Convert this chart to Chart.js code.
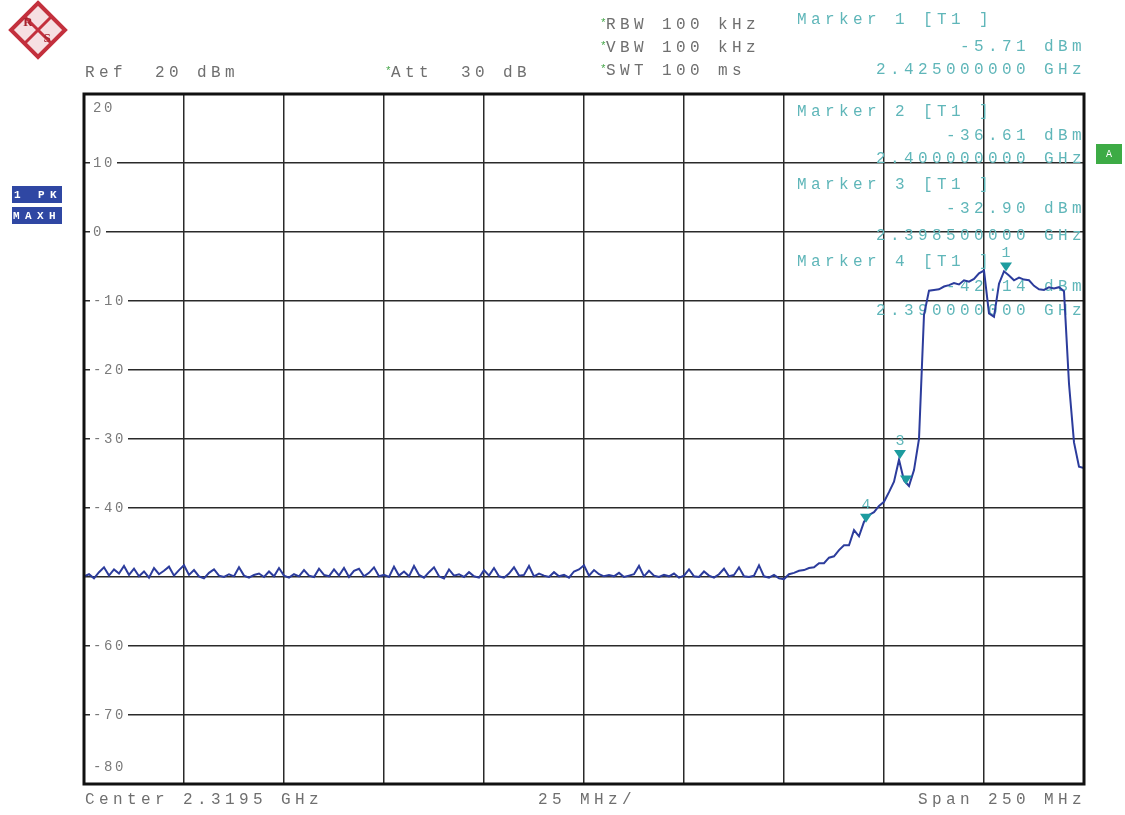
<!DOCTYPE html>
<html>
<head>
<meta charset="utf-8">
<script src="https://cdn.jsdelivr.net/npm/chart.js@4.4.1/dist/chart.umd.min.js"></script>
<style>html,body{margin:0;padding:0;background:#fff}</style>
</head>
<body>
<canvas id="sa" width="1125" height="815"></canvas>
<script>
// sweep: 201 points, 2194.5 .. 2444.5 MHz
const startMHz = 2194.5;
const stepMHz = 1.25;
const traceLevels = [
  -49.9, -49.6, -50.2, -49.3, -48.6, -49.8, -48.9, -49.5, -48.4, -49.7,
  -48.8, -49.9, -49.2, -50.1, -48.7, -49.6, -49.1, -48.5, -49.8, -49.0,
  -48.3, -49.7, -49.0, -49.9, -50.2, -49.4, -48.9, -49.8, -50.0, -49.6,
  -49.9, -48.6, -49.8, -50.1, -49.7, -49.5, -50.0, -49.2, -49.9, -48.7,
  -49.8, -50.1, -49.6, -49.9, -49.0, -49.8, -50.0, -48.8, -49.7, -49.9,
  -48.9, -49.8, -48.7, -50.0, -49.1, -48.8, -49.9, -49.4, -48.6, -49.9,
  -49.7, -50.0, -48.5, -49.8, -49.2, -49.9, -48.4, -49.7, -50.1, -49.3,
  -48.6, -49.9, -50.2, -48.9, -49.8, -49.6, -50.0, -49.3, -49.9, -50.1,
  -49.0, -49.8, -48.7, -49.9, -50.1, -49.5, -48.6, -49.8, -49.7, -48.4,
  -49.9, -49.5, -49.8, -50.0, -49.3, -49.9, -49.7, -50.1, -49.2, -48.9,
  -48.3, -49.8, -49.0, -49.6, -49.9, -49.7, -49.9, -49.4, -50.0, -49.8,
  -49.6, -48.4, -49.9, -49.1, -49.8, -50.0, -49.7, -49.9, -49.5, -50.1,
  -49.8, -48.9, -49.9, -50.0, -49.2, -49.8, -50.1, -49.6, -48.8, -49.9,
  -49.7, -48.6, -49.9, -50.0, -49.8, -48.3, -49.9, -50.1, -49.7, -50.2,
  -50.3,
  -49.6, -49.4, -49.1, -49.0, -48.7, -48.6, -48.0, -48.0, -47.2, -47.0,
  -46.1, -45.4, -45.4, -43.2, -44.1, -42.0, -41.0, -40.6, -39.7, -39.1,
  -37.7, -36.2, -33.0, -36.0, -36.8, -34.5, -30.0, -12.0, -8.5, -8.4,
  -8.3, -7.9, -7.7, -7.4, -7.6, -7.0, -7.2, -6.8, -6.0, -5.6,
  -11.8, -12.3, -7.5, -5.7, -6.3, -7.0, -6.6, -6.9, -7.0, -7.8,
  -8.3, -8.4, -8.0, -8.2, -8.0, -8.6, -22.0, -30.5, -34.0, -34.2
];

const xTicks = [2194.5, 2219.5, 2244.5, 2269.5, 2294.5, 2319.5, 2344.5, 2369.5, 2394.5, 2419.5, 2444.5];
const yTicks = [20, 10, 0, -10, -20, -30, -40, -50, -60, -70, -80];
const yTickLabels = ['20', '10', '0', '-10', '-20', '-30', '-40', '', '-60', '-70', '-80'];

const markerNames = ['1', '2', '3', '4'];
const markerFreqs = [2425, 2400, 2398.5, 2390];
const markerLevels = [-5.71, -36.61, -32.90, -42.14];
const markerLevelText = ['-5.71 dBm', '-36.61 dBm', '-32.90 dBm', '-42.14 dBm'];
const markerFreqText = ['2.425000000 GHz', '2.400000000 GHz', '2.398500000 GHz', '2.390000000 GHz'];
const markerShowName = [true, false, true, true];

const MONO = '"Liberation Mono", "DejaVu Sans Mono", monospace';

function mono(ctx, s, x, y, adv, right) {
  const x0 = right ? x - s.length * adv : x;
  for (let i = 0; i < s.length; i++) ctx.fillText(s[i], x0 + i * adv, y);
}

const overlay = {
  id: 'overlay',
  beforeDatasetsDraw(chart) {
    const ctx = chart.ctx;
    const y = chart.scales.y;
    const a = chart.chartArea;
    ctx.save();
    // y tick labels sitting on the grid lines
    ctx.font = '14px ' + MONO;
    ctx.textBaseline = 'middle';
    ctx.textAlign = 'left';
    yTicks.forEach((v, i) => {
      const t = yTickLabels[i];
      if (!t) return;
      let py = y.getPixelForValue(v);
      if (i === 0) py += 14;
      if (i === yTicks.length - 1) py -= 17;
      const w = t.length * 11;
      ctx.fillStyle = '#fff';
      ctx.fillRect(a.left + 6, py - 7, w + 5, 14);
      ctx.fillStyle = '#7a7a7a';
      mono(ctx, t, a.left + 9, py, 11, false);
    });
    // marker readouts inside the grid
    ctx.font = '16px ' + MONO;
    ctx.fillStyle = '#5fb6b9';
    const blocks = [[112, 136, 159], [185, 209, 236], [262, 287, 311]];
    blocks.forEach((b, k) => {
      const m = k + 1;
      mono(ctx, 'Marker ' + markerNames[m] + ' [T1 ]', 797, b[0], 14, false);
      mono(ctx, markerLevelText[m], 1086, b[1], 14, true);
      mono(ctx, markerFreqText[m], 1086, b[2], 14, true);
    });
    ctx.restore();
  },
  afterDatasetsDraw(chart) {
    const ctx = chart.ctx;
    const xs = chart.scales.x, ys = chart.scales.y;
    const a = chart.chartArea;
    ctx.save();
    // marker triangles
    markerFreqs.forEach((f, i) => {
      const px = xs.getPixelForValue(f);
      const py = ys.getPixelForValue(markerLevels[i]);
      ctx.fillStyle = '#1d9c9f';
      ctx.beginPath();
      ctx.moveTo(px - 6, py - 9);
      ctx.lineTo(px + 6, py - 9);
      ctx.lineTo(px, py);
      ctx.closePath();
      ctx.fill();
      if (markerShowName[i]) {
        ctx.font = '15px ' + MONO;
        ctx.textAlign = 'center';
        ctx.textBaseline = 'middle';
        ctx.fillStyle = '#5fb6b9';
        ctx.fillText(markerNames[i], px, py - 18);
      }
    });
    // frame
    ctx.strokeStyle = '#111';
    ctx.lineWidth = 3;
    ctx.strokeRect(a.left, a.top, a.right - a.left, a.bottom - a.top);
    ctx.restore();
  },
  afterDraw(chart) {
    const ctx = chart.ctx;
    ctx.save();
    ctx.textBaseline = 'middle';
    ctx.textAlign = 'left';
    ctx.font = '16px ' + MONO;
    // header
    ctx.fillStyle = '#6f6f6f';
    mono(ctx, 'Ref  20 dBm', 85, 73, 14, false);
    mono(ctx, 'Att  30 dB', 391, 73, 14, false);
    mono(ctx, 'RBW 100 kHz', 606, 25, 14, false);
    mono(ctx, 'VBW 100 kHz', 606, 48, 14, false);
    mono(ctx, 'SWT 100 ms', 606, 71, 14, false);
    ctx.fillStyle = '#48a84c';
    ctx.font = '11px ' + MONO;
    [[385, 71], [600, 23], [600, 46], [600, 69]].forEach(p => ctx.fillText('*', p[0], p[1]));
    ctx.font = '16px ' + MONO;
    ctx.fillStyle = '#5fb6b9';
    mono(ctx, 'Marker ' + markerNames[0] + ' [T1 ]', 797, 20, 14, false);
    mono(ctx, markerLevelText[0], 1086, 47, 14, true);
    mono(ctx, markerFreqText[0], 1086, 70, 14, true);
    // footer
    ctx.fillStyle = '#6f6f6f';
    mono(ctx, 'Center 2.3195 GHz', 85, 800, 14, false);
    mono(ctx, '25 MHz/', 538, 800, 14, false);
    mono(ctx, 'Span 250 MHz', 1086, 800, 14, true);
    // trace info boxes
    ctx.fillStyle = '#2f47a3';
    ctx.fillRect(12, 186, 50, 17);
    ctx.fillRect(12, 207, 50, 17);
    ctx.fillStyle = '#fff';
    ctx.font = 'bold 11px ' + MONO;
    mono(ctx, '1 PK', 14, 195, 12, false);
    mono(ctx, 'MAXH', 13, 216, 12, false);
    ctx.fillStyle = '#3dab45';
    ctx.fillRect(1096, 144, 26, 20);
    ctx.fillStyle = '#fff';
    ctx.font = '10px ' + MONO;
    ctx.textAlign = 'center';
    ctx.fillText('A', 1109, 154);
    // logo
    const cx = 38, cy = 30, r = 27;
    ctx.beginPath();
    ctx.moveTo(cx, cy - r); ctx.lineTo(cx + r, cy); ctx.lineTo(cx, cy + r); ctx.lineTo(cx - r, cy); ctx.closePath();
    ctx.fillStyle = '#f6dfe2';
    ctx.fill();
    ctx.strokeStyle = '#c3303d';
    ctx.lineWidth = 4;
    ctx.stroke();
    ctx.lineWidth = 3;
    ctx.beginPath();
    ctx.moveTo(cx - r / 2, cy - r / 2); ctx.lineTo(cx + r / 2, cy + r / 2);
    ctx.moveTo(cx + r / 2, cy - r / 2); ctx.lineTo(cx - r / 2, cy + r / 2);
    ctx.stroke();
    ctx.fillStyle = '#a8242f';
    ctx.font = 'bold 13px "Liberation Serif", serif';
    ctx.fillText('R', cx - 10, cy - 7);
    ctx.fillText('S', cx + 9, cy + 9);
    ctx.restore();
  }
};

new Chart(document.getElementById('sa'), {
  type: 'line',
  data: {
    datasets: [{
      label: 'Trace 1',
      data: traceLevels.map((v, i) => ({ x: startMHz + i * stepMHz, y: v })),
      borderColor: '#2c3c9c',
      borderWidth: 2,
      pointRadius: 0,
      tension: 0
    }]
  },
  options: {
    responsive: false,
    animation: false,
    layout: { padding: { left: 84, top: 94, right: 41, bottom: 31 } },
    scales: {
      x: {
        type: 'linear',
        min: xTicks[0],
        max: xTicks[xTicks.length - 1],
        afterBuildTicks: s => { s.ticks = xTicks.map(v => ({ value: v })); },
        ticks: { display: false },
        grid: { color: '#2a2a2a', lineWidth: 1.5, drawTicks: false },
        border: { display: false }
      },
      y: {
        min: -80,
        max: 20,
        afterBuildTicks: s => { s.ticks = yTicks.map(v => ({ value: v })); },
        ticks: { display: false },
        grid: { color: '#2a2a2a', lineWidth: 1.5, drawTicks: false },
        border: { display: false }
      }
    },
    plugins: {
      legend: { display: false },
      tooltip: { enabled: false }
    }
  },
  plugins: [overlay]
});
</script>
</body>
</html>
